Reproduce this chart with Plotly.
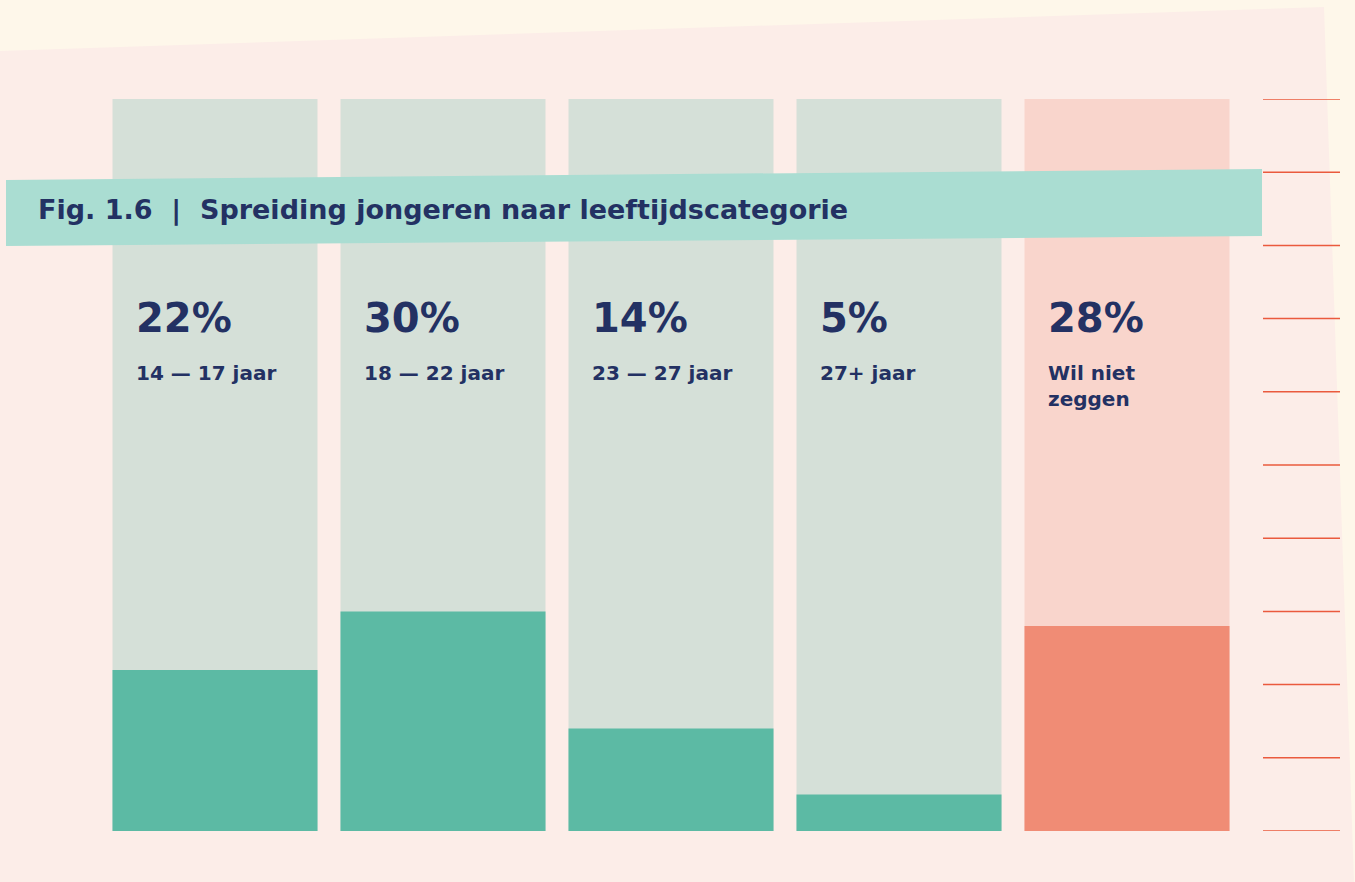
import plotly.graph_objects as go

categories = ["14 — 17 jaar", "18 — 22 jaar", "23 — 27 jaar", "27+ jaar", "Wil niet<br>zeggen"]
values = [22, 30, 14, 5, 28]
full_values = [100, 100, 100, 100, 100]
tick_values = [0, 10, 20, 30, 40, 50, 60, 70, 80, 90, 100]
title_text = "Fig. 1.6  |  Spreiding jongeren naar leeftijdscategorie"

W, H = 1355, 882
L, T, B = 101, 99, 51
PW = 1140
PH = H - T - B
R = W - L - PW

NAVY = "#233163"
light_cols = ["#D5E0D8"] * 4 + ["#F9D5CC"]
dark_cols = ["#5CBAA4"] * 4 + ["#F08C75"]

def px(x):
    return (x - L) / PW

def py(y):
    return (H - B - y) / PH

FONT = "DejaVu Sans"

xcat = list(range(len(categories)))
fig = go.Figure()
fig.add_trace(go.Bar(x=xcat, y=full_values, marker=dict(color=light_cols, line=dict(width=0)),
                     hoverinfo="skip", showlegend=False))
fig.add_trace(go.Bar(x=xcat, y=values, marker=dict(color=dark_cols, line=dict(width=0)),
                     showlegend=False))

shapes = []
# pink tilted background
shapes.append(dict(type="path", xref="paper", yref="paper", layer="below",
                   path=f"M {px(0)} {py(51)} L {px(1324)} {py(7)} L {px(1354)} {py(882)} L {px(0)} {py(882)} Z",
                   fillcolor="#FCEDE8", line=dict(width=0)))
# red tick lines
for v in tick_values:
    shapes.append(dict(type="line", xref="paper", yref="y", x0=px(1263), x1=px(1340), y0=v, y1=v,
                       line=dict(color="#EA5A3D", width=1.5), layer="above"))
# teal banner
shapes.append(dict(type="path", xref="paper", yref="paper", layer="above",
                   path=f"M {px(6)} {py(180)} L {px(1262)} {py(169)} L {px(1262)} {py(236)} L {px(6)} {py(246)} Z",
                   fillcolor="#AADDD2", line=dict(width=0)))

annotations = []
annotations.append(dict(xref="paper", yref="paper", x=px(36), y=py(210), xanchor="left", yanchor="middle",
                        text=f"<b>{title_text}</b>", showarrow=False,
                        font=dict(family=FONT, size=27, color=NAVY)))
for i, (c, v) in enumerate(zip(categories, values)):
    annotations.append(dict(xref="x", yref="paper", x=i, xshift=-81, y=py(318), xanchor="left", yanchor="middle",
                            text=f"<b>{v}%</b>", showarrow=False,
                            font=dict(family=FONT, size=40, color=NAVY)))
    annotations.append(dict(xref="x", yref="paper", x=i, xshift=-81, y=py(359), xanchor="left", yanchor="top",
                            text=f"<b>{c}</b>", showarrow=False, align="left",
                            font=dict(family=FONT, size=20, color=NAVY)))

fig.update_layout(
    width=W, height=H,
    margin=dict(l=L, r=R, t=T, b=B, pad=0),
    paper_bgcolor="#FEF7EA",
    plot_bgcolor="rgba(0,0,0,0)",
    barmode="overlay",
    bargap=1 - 205 / 228,
    xaxis=dict(range=[-0.5, 4.5], visible=False, fixedrange=True),
    yaxis=dict(range=[0, 100], visible=False, fixedrange=True),
    shapes=shapes,
    annotations=annotations,
    showlegend=False,
)

fig.write_html("out.html", config={"displayModeBar": False},
               post_script="document.body.style.margin='0';")
